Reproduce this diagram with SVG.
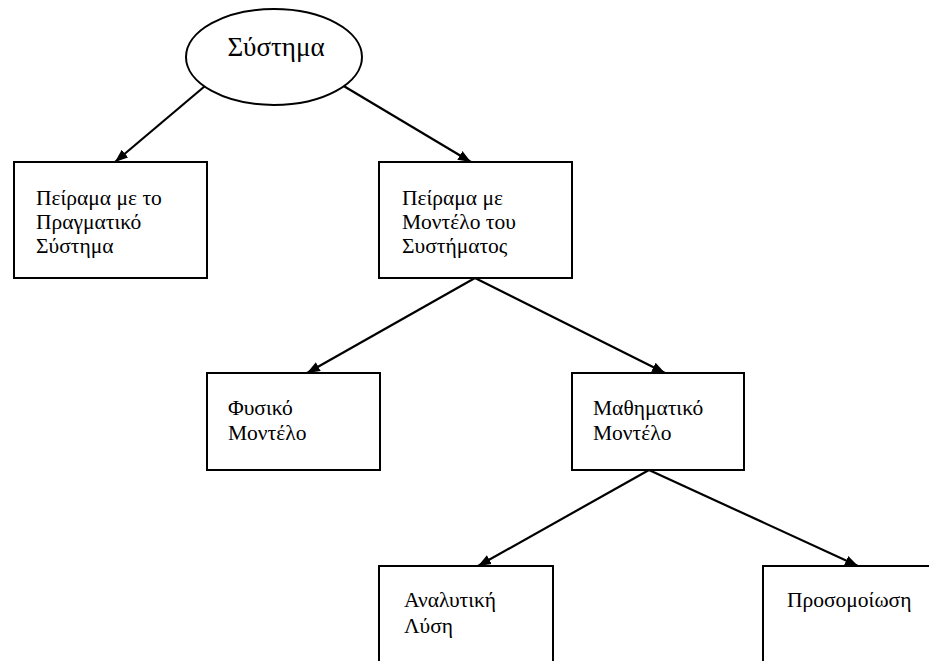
<svg xmlns="http://www.w3.org/2000/svg" width="929" height="661" viewBox="0 0 929 661">
  <style>
    .box { fill: #fff; stroke: #000; stroke-width: 2; }
    .lbl { font-family: "Liberation Serif", "DejaVu Serif", serif; font-size: 21.5px; fill: #000; }
    .title { font-family: "Liberation Serif", "DejaVu Serif", serif; font-size: 27px; fill: #000; }
    .edge { stroke: #000; stroke-width: 2.2; fill: none; marker-end: url(#arrow); }
  </style>
  <defs>
    <marker id="arrow" markerUnits="userSpaceOnUse" markerWidth="14" markerHeight="12" viewBox="0 0 14 12" refX="13" refY="6" orient="auto">
      <path d="M0,1 L13,6 L0,11 Z" fill="#000"/>
    </marker>
  </defs>
  <rect width="929" height="661" fill="#fff"/>

  <g id="connectors">
    <line class="edge" x1="205" y1="86" x2="115" y2="162"/>
    <line class="edge" x1="342" y1="85" x2="471" y2="162"/>
    <line class="edge" x1="475" y1="278" x2="307" y2="373"/>
    <line class="edge" x1="475" y1="278" x2="665" y2="373"/>
    <line class="edge" x1="649" y1="470" x2="478" y2="566"/>
    <line class="edge" x1="649" y1="470" x2="858" y2="566"/>
  </g>

  <g id="system">
    <ellipse cx="274" cy="57" rx="88" ry="48" fill="#fff" stroke="#000" stroke-width="2"/>
    <text class="title" x="276" y="56" text-anchor="middle">Σύστημα</text>
  </g>

  <g id="real-system">
    <rect class="box" x="14" y="162" width="193" height="116"/>
    <text class="lbl" x="36" y="205">Πείραμα με το</text>
    <text class="lbl" x="36" y="229">Πραγματικό</text>
    <text class="lbl" x="36" y="253">Σύστημα</text>
  </g>

  <g id="model-experiment">
    <rect class="box" x="379" y="162" width="193" height="116"/>
    <text class="lbl" x="402" y="205">Πείραμα με</text>
    <text class="lbl" x="402" y="229">Μοντέλο του</text>
    <text class="lbl" x="402" y="253">Συστήματος</text>
  </g>

  <g id="physical-model">
    <rect class="box" x="207" y="373" width="173" height="97"/>
    <text class="lbl" x="228" y="415">Φυσικό</text>
    <text class="lbl" x="228" y="440">Μοντέλο</text>
  </g>

  <g id="math-model">
    <rect class="box" x="572" y="373" width="172" height="97"/>
    <text class="lbl" x="593" y="415">Μαθηματικό</text>
    <text class="lbl" x="593" y="440">Μοντέλο</text>
  </g>

  <g id="analytic">
    <rect class="box" x="379" y="566" width="174" height="110"/>
    <text class="lbl" x="404" y="607">Αναλυτική</text>
    <text class="lbl" x="404" y="633">Λύση</text>
  </g>

  <g id="simulation">
    <rect class="box" x="763" y="566" width="190" height="110"/>
    <text class="lbl" x="787" y="607">Προσομοίωση</text>
  </g>
</svg>
